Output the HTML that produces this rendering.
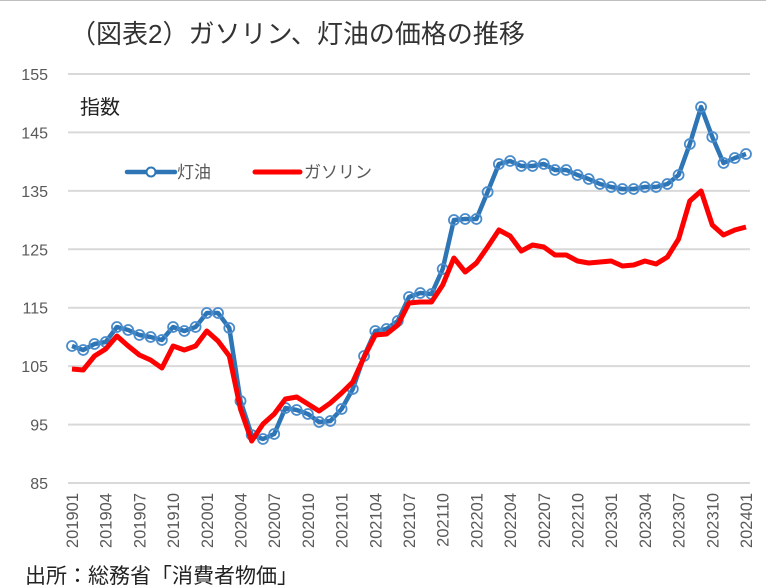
<!DOCTYPE html>
<html><head><meta charset="utf-8">
<style>
html,body{margin:0;padding:0;background:#fff;}
svg{display:block;}
text{font-family:"Liberation Sans","Noto Sans CJK JP",sans-serif;}
</style></head>
<body>
<svg id="s" width="766" height="588" viewBox="0 0 766 588" xmlns="http://www.w3.org/2000/svg">
<rect x="0" y="0" width="766" height="588" fill="#fff"/>
<line x1="0" y1="0.5" x2="766" y2="0.5" stroke="#bfbfbf" stroke-width="1"/>
<text x="70" y="43" font-size="26" fill="#333">（図表2）ガソリン、灯油の価格の推移</text>
<g id="grid" stroke="#d9d9d9" stroke-width="2"></g>
<g id="ylab" font-size="16" fill="#595959" text-anchor="end"></g>
<g id="xlab" font-size="16.5" fill="#595959"></g>
<text x="80" y="114" font-size="20" fill="#222">指数</text>
<line x1="127" y1="172" x2="175" y2="172" stroke="#2e75b6" stroke-width="4.5" stroke-linecap="round"/>
<circle cx="151" cy="172" r="4.5" fill="#fff" stroke="#2e75b6" stroke-width="2"/>
<text x="177" y="178" font-size="17" fill="#595959">灯油</text>
<line x1="255" y1="172" x2="300" y2="172" stroke="#ff0000" stroke-width="5" stroke-linecap="round"/>
<text x="304" y="178" font-size="17" fill="#595959">ガソリン</text>
<g id="series"></g>
<text x="25" y="583" font-size="21" fill="#222">出所：総務省「消費者物価」</text>
</svg>
<script>
var NS="http://www.w3.org/2000/svg";
function el(t,a,p,txt){var e=document.createElementNS(NS,t);for(var k in a)e.setAttribute(k,a[k]);if(txt)e.textContent=txt;p.appendChild(e);return e;}
var g=document.getElementById('grid'),yl=document.getElementById('ylab'),xl=document.getElementById('xlab'),sr=document.getElementById('series');
function Y(v){return 74+(155-v)*409/70;}
for(var v=85;v<=155;v+=10){var y=Y(v);el('line',{x1:68,y1:y,x2:750,y2:y},g);el('text',{x:48,y:y+6},yl,''+v);}
function X(i){return 72+i*674/60;}
for(var i=0;i<=60;i+=3){var yr=2019+Math.floor(i/12),m=i%12+1;var lab=yr+(m<10?'0':'')+m;var x=X(i)+6;
el('text',{x:x,y:493,transform:'rotate(-90 '+x+' 493)','text-anchor':'end'},xl,lab);}
var blue=[346,350,344,342,327,330,335,337,340,327,331,327,313,313,328,401,435,439,434,408,410,414,422,421,409,389,356,331,329,321,297,293,294,269,220,219,219,192,164,161,166,166,164,170,170,175,179,184,187,189,189,187,187,184,175,144,107,137,163,158,154];
var red=[369,370,356,349,336,346,355,360,368,346,350,346,331,341,356,409,441,424,414,399,397,404,411,403,393,382,357,335,334,325,303,302,302,285,258,272,263,247,230,236,251,245,247,255,255,261,263,262,261,266,265,261,264,257,239,201,191,225,235,230,227];
function pts(a){return a.map(function(y,i){return X(i).toFixed(1)+','+y;}).join(' ');}
el('polyline',{points:pts(blue),fill:'none',stroke:'#2e75b6','stroke-width':4.5,'stroke-linejoin':'round'},sr);
blue.forEach(function(y,i){el('circle',{cx:X(i),cy:y,r:5,fill:'none',stroke:'#4a8ccb','stroke-width':1.8},sr);});
el('polyline',{points:pts(red),fill:'none',stroke:'#ff0000','stroke-width':5,'stroke-linejoin':'round'},sr);
</script>
</body></html>
